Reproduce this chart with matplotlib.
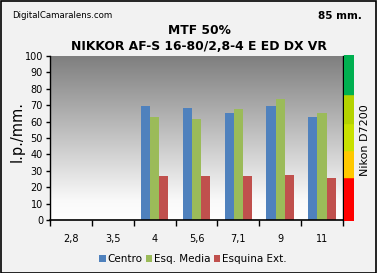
import numpy as np
import matplotlib
matplotlib.use("Agg")
import matplotlib.pyplot as plt
from matplotlib.patches import Rectangle

# ---------------------------------------------------------------------------
# data
# ---------------------------------------------------------------------------
apertures = ["2,8", "3,5", "4", "5,6", "7,1", "9", "11"]
centro = [np.nan, np.nan, 69.5, 68.3, 65.2, 69.5, 62.8]
esq_media = [np.nan, np.nan, 62.8, 61.6, 67.5, 73.8, 65.2]
esquina_ext = [np.nan, np.nan, 26.8, 26.8, 26.8, 27.4, 25.6]
series_names = ["Centro", "Esq. Media", "Esquina Ext."]

scale_edges = [0, 25.6, 42, 58.5, 75.8, 100]
scale_colors = ["#ff0000", "#ffc800", "#c8e000", "#b4d200", "#00b050"]

W, H = 377, 273
fig = plt.figure(figsize=(W / 100, H / 100), dpi=100, facecolor="#f2f2f2")
fig.add_artist(Rectangle((0.5 / W, 0.5 / H), 1 - 1.5 / W, 1 - 1.5 / H,
                         transform=fig.transFigure, fill=False,
                         edgecolor="black", lw=1.2))


def box(x0, y0, x1, y1):
    return [x0 / W, 1 - y1 / H, (x1 - x0) / W, (y1 - y0) / H]


ax = fig.add_axes(box(50, 56, 343, 220))
ax.set_xlim(0, len(apertures))
ax.set_ylim(0, 100)

# gradient background
grad = np.linspace(1, 0, 256).reshape(-1, 1)
cmap = matplotlib.colors.LinearSegmentedColormap.from_list(
    "g", [(0, "#ffffff"), (0.12, "#f9f9f9"), (1, "#7f7f7f")])
ax.imshow(grad, extent=[0, len(apertures), 0, 100], aspect="auto",
          cmap=cmap, zorder=0, origin="upper")

x = np.arange(len(apertures)) + 0.5
bw = 0.22
colors = ["#4f81bd", "#9bbb59", "#c0504d"]
for i, (vals, c) in enumerate(zip([centro, esq_media, esquina_ext], colors)):
    ax.bar(x + (i - 1) * bw, vals, width=bw, color=c, zorder=2,
           label=series_names[i])

ax.set_yticks(range(0, 101, 10))
ax.set_xticks(range(len(apertures) + 1))
ax.set_xticklabels([])
ax.set_xticks(x, minor=True)
ax.set_xticklabels(apertures, minor=True, fontsize=7)
ax.tick_params(axis="x", which="minor", length=0, pad=10)
ax.tick_params(axis="x", which="major", length=4, width=1)
ax.tick_params(axis="y", length=3, width=1, labelsize=7, pad=2)
ax.spines["top"].set_visible(False)
for s in ["left", "right"]:
    ax.spines[s].set_linewidth(1)
ax.spines["bottom"].set_linewidth(1.2)

fig.text(17 / W, 1 - 131 / H, "l.p./mm.", rotation=90, ha="center",
         va="center", fontsize=10.5)

# quality scale
cax = fig.add_axes(box(343.5, 55, 354, 220.5))
for lo, hi, c in zip(scale_edges[:-1], scale_edges[1:], scale_colors):
    cax.bar(0, hi - lo, bottom=lo, width=1, color=c, edgecolor=c, lw=0.3)
cax.set_xlim(-0.5, 0.5)
cax.set_ylim(0, 100)
cax.axis("off")

fig.text(365 / W, 1 - 140 / H, "Nikon D7200", rotation=90, ha="center",
         va="center", fontsize=8)

fig.text(12 / W, 1 - 16 / H, "DigitalCamaralens.com", fontsize=6.2,
         ha="left", va="center")
fig.text(362 / W, 1 - 16 / H, "85 mm.", fontsize=7.5, fontweight="bold",
         ha="right", va="center")
fig.text(199 / W, 1 - 31 / H, "MTF 50%", fontsize=8.8, fontweight="bold",
         ha="center", va="center")
fig.text(199 / W, 1 - 46 / H, "NIKKOR AF-S 16-80/2,8-4 E ED DX VR",
         fontsize=8.9, fontweight="bold", ha="center", va="center")

leg = fig.legend(*ax.get_legend_handles_labels(), loc="center",
                 bbox_to_anchor=(193 / W, 1 - 259 / H), ncol=3, frameon=False,
                 fontsize=7.5, handlelength=0.6, handleheight=0.6,
                 handletextpad=0.2, columnspacing=0.3)

fig.savefig("out.png", dpi=100, facecolor=fig.get_facecolor())
